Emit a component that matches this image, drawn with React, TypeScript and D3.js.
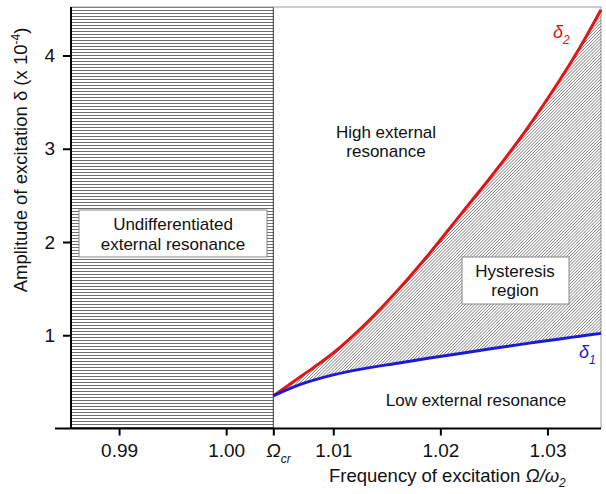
import { useEffect, useRef } from 'react';
import * as d3 from 'd3';

// Frequency grid (Ω/ω2) shared by both boundary curves
const omega = [1.0044, 1.007, 1.010, 1.013, 1.016, 1.019, 1.022, 1.025, 1.028, 1.031, 1.033, 1.035];
// Lower boundary δ1 (x 10^-4)
const delta1 = [0.35, 0.475, 0.575, 0.645, 0.70, 0.755, 0.808, 0.86, 0.91, 0.958, 0.99, 1.02];
// Upper boundary δ2 (x 10^-4)
const delta2 = [0.35, 0.56, 0.81, 1.12, 1.48, 1.88, 2.31, 2.74, 3.20, 3.71, 4.08, 4.49];

const omegaCr = 1.0044;
const xTicks = [0.99, 1.0, omegaCr, 1.01, 1.02, 1.03];
const yTicks = [1, 2, 3, 4];

const FONT = '"Liberation Sans", Arial, sans-serif';

export default function App() {
  const ref = useRef<SVGSVGElement>(null);

  useEffect(() => {
    if (!ref.current) return;
    const svg = d3.select(ref.current);
    svg.selectAll('*').remove();

    const left = 71, right = 601, top = 7, bottom = 428.5;
    const x = d3.scaleLinear().domain([0.98551, 1.035]).range([left, right]);
    const y = d3.scaleLinear().domain([0, 4.52]).range([bottom, top]);

    // Patterns
    const defs = svg.append('defs');
    const hp = defs.append('pattern')
      .attr('id', 'hlines')
      .attr('patternUnits', 'userSpaceOnUse')
      .attr('width', 6)
      .attr('height', 3);
    hp.append('line')
      .attr('x1', 0).attr('x2', 6).attr('y1', 1.5).attr('y2', 1.5)
      .attr('stroke', '#555').attr('stroke-width', 0.85);

    const dp = defs.append('pattern')
      .attr('id', 'diag')
      .attr('patternUnits', 'userSpaceOnUse')
      .attr('width', 2.2)
      .attr('height', 10)
      .attr('patternTransform', 'rotate(45)');
    dp.append('line')
      .attr('x1', 1.1).attr('x2', 1.1).attr('y1', 0).attr('y2', 10)
      .attr('stroke', '#666').attr('stroke-width', 0.7);

    // Undifferentiated region (left of Ωcr)
    svg.append('rect')
      .attr('x', left).attr('y', top)
      .attr('width', x(omegaCr) - left).attr('height', bottom - top)
      .attr('fill', 'url(#hlines)');
    svg.append('line')
      .attr('x1', x(omegaCr)).attr('x2', x(omegaCr))
      .attr('y1', top).attr('y2', bottom)
      .attr('stroke', '#333').attr('stroke-width', 1);

    // Frame top/right
    svg.append('path')
      .attr('d', `M${left},${top}H${right}V${bottom}`)
      .attr('fill', 'none').attr('stroke', '#999').attr('stroke-width', 1);

    // Hysteresis region
    const curve = d3.curveCatmullRom.alpha(0.5);
    const area = d3.area<number>()
      .x(d => x(d))
      .y0((_, i) => y(delta1[i]))
      .y1((_, i) => y(delta2[i]))
      .curve(curve);
    svg.append('path').attr('d', area(omega)).attr('fill', 'url(#diag)');

    const line1 = d3.line<number>().x(d => x(d)).y((_, i) => y(delta1[i])).curve(curve);
    const line2 = d3.line<number>().x(d => x(d)).y((_, i) => y(delta2[i])).curve(curve);
    svg.append('path').attr('d', line2(omega))
      .attr('fill', 'none').attr('stroke', '#e01515').attr('stroke-width', 3);
    svg.append('path').attr('d', line1(omega))
      .attr('fill', 'none').attr('stroke', '#1a1ad8').attr('stroke-width', 3);

    // Axes
    const xAxis = svg.append('g')
      .attr('transform', `translate(0,${bottom})`)
      .call(d3.axisBottom(x).tickValues(xTicks).tickSize(7).tickPadding(8)
        .tickFormat(d => (d === omegaCr ? '' : d3.format('.2f')(d as number))));
    const yAxis = svg.append('g')
      .attr('transform', `translate(${left},0)`)
      .call(d3.axisLeft(y).tickValues(yTicks).tickSize(8).tickPadding(8).tickFormat(d3.format('d')));
    [xAxis, yAxis].forEach(g => {
      g.select('.domain').remove();
      g.selectAll('line').attr('stroke', '#000').attr('stroke-width', 2);
      g.selectAll('text').attr('font-family', FONT).attr('font-size', 19).attr('fill', '#111');
    });

    svg.append('line')
      .attr('x1', 55).attr('x2', right).attr('y1', bottom).attr('y2', bottom)
      .attr('stroke', '#000').attr('stroke-width', 2);
    svg.append('line')
      .attr('x1', left).attr('x2', left).attr('y1', top).attr('y2', bottom)
      .attr('stroke', '#000').attr('stroke-width', 2);

    // Ωcr label
    const cr = svg.append('text')
      .attr('x', x(omegaCr) - 7).attr('y', 456.5)
      .attr('font-family', FONT).attr('font-size', 19).attr('fill', '#111')
      .attr('font-style', 'italic');
    cr.append('tspan').text('Ω');
    cr.append('tspan').attr('font-size', 12).attr('dy', 6).text('cr');

    // Axis titles
    const xt = svg.append('text')
      .attr('x', 329).attr('y', 482)
      .attr('font-family', FONT).attr('font-size', 18.5).attr('fill', '#111');
    xt.append('tspan').text('Frequency of excitation ');
    xt.append('tspan').attr('font-style', 'italic').text('Ω/ω');
    xt.append('tspan').attr('font-style', 'italic').attr('font-size', 12).attr('dy', 5).text('2');

    const yt = svg.append('text')
      .attr('transform', 'translate(27,160) rotate(-90)')
      .attr('text-anchor', 'middle')
      .attr('font-family', FONT).attr('font-size', 18.5).attr('fill', '#111');
    yt.append('tspan').text('Amplitude of excitation δ (x 10');
    yt.append('tspan').attr('font-size', 12).attr('dy', -7).text('-4');
    yt.append('tspan').attr('dy', 7).text(')');

    // Boxes with labels
    const box = (bx: number, by: number, bw: number, bh: number) =>
      svg.append('rect')
        .attr('x', bx).attr('y', by).attr('width', bw).attr('height', bh)
        .attr('fill', '#fff').attr('stroke', '#888').attr('stroke-width', 1);
    box(79, 210, 188, 47);
    box(462, 257, 107, 47);

    const label = (lines: string[], cx: number, by: number, dy: number) => {
      const t = svg.append('text')
        .attr('text-anchor', 'middle')
        .attr('font-family', FONT).attr('font-size', 17).attr('fill', '#111');
      lines.forEach((s, i) => t.append('tspan').attr('x', cx).attr('y', by + i * dy).text(s));
    };
    label(['Undifferentiated', 'external resonance'], 173, 230, 20);
    label(['Hysteresis', 'region'], 515, 277, 19);
    label(['High external', 'resonance'], 386, 138, 19);
    label(['Low external resonance'], 476, 406, 0);

    // Curve labels
    const d2 = svg.append('text')
      .attr('x', 553).attr('y', 38)
      .attr('font-family', FONT).attr('font-size', 18).attr('font-style', 'italic').attr('fill', '#e01515');
    d2.append('tspan').text('δ');
    d2.append('tspan').attr('font-size', 12).attr('dy', 6).text('2');

    const d1 = svg.append('text')
      .attr('x', 579).attr('y', 358)
      .attr('font-family', FONT).attr('font-size', 18).attr('font-style', 'italic').attr('fill', '#1a1ad8');
    d1.append('tspan').text('δ');
    d1.append('tspan').attr('font-size', 12).attr('dy', 6).text('1');
  }, []);

  return (
    <svg
      ref={ref}
      width={606}
      height={494}
      style={{ position: 'absolute', left: 0, top: 0, background: '#fff' }}
    />
  );
}
